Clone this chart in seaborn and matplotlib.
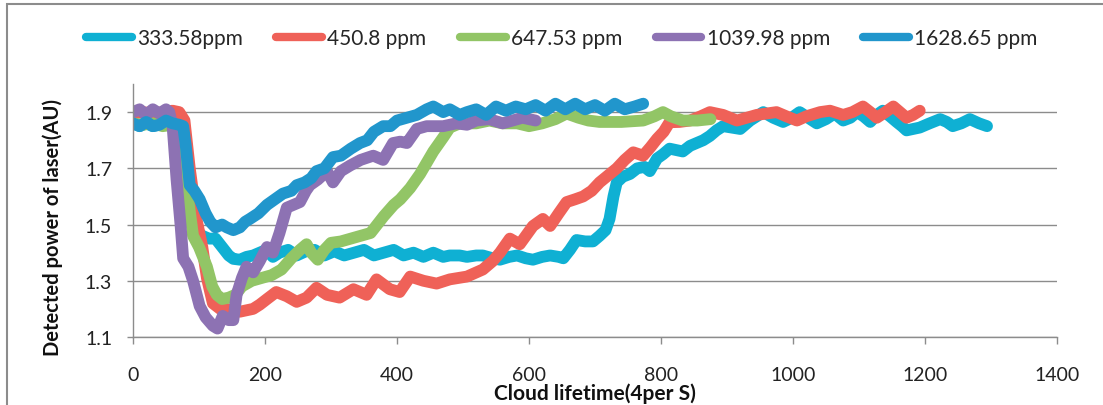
import numpy as np
import pandas as pd
import seaborn as sns
import matplotlib.pyplot as plt
from matplotlib.patches import Rectangle

labels = ['333.58ppm', '450.8 ppm', '647.53 ppm', '1039.98 ppm', '1628.65 ppm']
colors = ['#0FB0D3', '#EF6158', '#92C566', '#8D72B3', '#2196CC']

# 333.58 ppm
x1 = [0, 10, 20, 30, 40, 50, 60, 70, 78, 86, 95, 105, 115, 125, 135, 145, 152, 162, 172, 182,
      192, 202, 212, 222, 235, 248, 262, 275, 290, 305, 320, 335, 350, 365, 380, 395, 410, 425,
      440, 455, 470, 480, 495, 506, 520, 530, 545, 556, 570, 582, 595, 606, 620, 632, 645, 652,
      662, 672, 685, 697, 707, 716, 722, 728, 733, 742, 753, 764, 775, 783, 794, 803, 813, 823,
      833, 844, 854, 864, 874, 884, 894, 907, 920, 935, 945, 955, 970, 985, 998, 1010, 1023, 1036,
      1050, 1063, 1076, 1087, 1097, 1107, 1117, 1127, 1136, 1147, 1157, 1165, 1172, 1182, 1192,
      1207, 1223, 1233, 1242, 1255, 1268, 1282, 1294]
y1 = [1.86, 1.85, 1.86, 1.85, 1.855, 1.865, 1.86, 1.85, 1.80, 1.62, 1.48, 1.46, 1.45, 1.45, 1.42,
      1.39, 1.378, 1.375, 1.385, 1.39, 1.40, 1.41, 1.385, 1.40, 1.41, 1.39, 1.405, 1.41, 1.39,
      1.405, 1.39, 1.40, 1.41, 1.39, 1.40, 1.41, 1.39, 1.40, 1.385, 1.40, 1.385, 1.39, 1.39,
      1.385, 1.39, 1.39, 1.38, 1.375, 1.385, 1.39, 1.38, 1.375, 1.385, 1.39, 1.385, 1.38, 1.41,
      1.445, 1.44, 1.44, 1.46, 1.48, 1.52, 1.60, 1.65, 1.67, 1.68, 1.70, 1.705, 1.69, 1.735, 1.75,
      1.77, 1.765, 1.76, 1.78, 1.79, 1.80, 1.815, 1.835, 1.85, 1.845, 1.84, 1.87, 1.885, 1.90,
      1.88, 1.865, 1.88, 1.90, 1.88, 1.86, 1.875, 1.895, 1.87, 1.88, 1.90, 1.885, 1.865, 1.89,
      1.905, 1.885, 1.865, 1.85, 1.835, 1.84, 1.845, 1.86, 1.875, 1.865, 1.85, 1.86, 1.875, 1.86,
      1.85]

# 450.8 ppm
x2 = [0, 15, 30, 45, 60, 70, 78, 86, 97, 105, 112, 121, 132, 142, 152, 162, 172, 182, 192, 203,
      217, 233, 248, 263, 278, 294, 313, 334, 354, 369, 389, 404, 420, 440, 460, 480, 506, 530,
      545, 556, 571, 586, 606, 621, 632, 645, 657, 670, 682, 695, 707, 720, 733, 745, 758, 773,
      784, 794, 804, 813, 828, 844, 860, 874, 894, 915, 930, 945, 960, 975, 990, 1006, 1020, 1041,
      1056, 1076, 1090, 1106, 1117, 1127, 1140, 1152, 1162, 1172, 1182, 1192]
y2 = [1.895, 1.90, 1.895, 1.90, 1.905, 1.90, 1.87, 1.70, 1.51, 1.42, 1.31, 1.22, 1.20, 1.20,
      1.195, 1.19, 1.195, 1.20, 1.215, 1.235, 1.26, 1.245, 1.225, 1.24, 1.275, 1.25, 1.24, 1.27,
      1.25, 1.305, 1.27, 1.26, 1.315, 1.30, 1.29, 1.305, 1.315, 1.34, 1.37, 1.40, 1.45, 1.43,
      1.495, 1.52, 1.495, 1.54, 1.58, 1.59, 1.60, 1.62, 1.65, 1.675, 1.70, 1.73, 1.757, 1.745,
      1.775, 1.805, 1.83, 1.864, 1.865, 1.87, 1.885, 1.90, 1.89, 1.87, 1.88, 1.89, 1.895, 1.90,
      1.885, 1.87, 1.885, 1.90, 1.905, 1.89, 1.90, 1.92, 1.90, 1.88, 1.90, 1.92, 1.90, 1.88,
      1.89, 1.905]

# 647.53 ppm
x3 = [0, 15, 30, 45, 60, 70, 75, 82, 91, 100, 112, 120, 127, 135, 145, 155, 165, 180, 195, 210,
      225, 240, 253, 263, 270, 280, 290, 300, 315, 330, 345, 360, 370, 380, 395, 405, 420, 435,
      445, 455, 470, 480, 495, 520, 540, 560, 582, 600, 620, 640, 657, 675, 690, 707, 740, 773,
      790, 803, 815, 833, 855, 875]
y3 = [1.86, 1.855, 1.86, 1.85, 1.855, 1.85, 1.80, 1.62, 1.46, 1.42, 1.35, 1.28, 1.25, 1.235,
      1.24, 1.25, 1.28, 1.30, 1.31, 1.32, 1.34, 1.38, 1.41, 1.43, 1.40, 1.375, 1.41, 1.435, 1.44,
      1.45, 1.46, 1.47, 1.50, 1.53, 1.57, 1.59, 1.63, 1.68, 1.72, 1.76, 1.81, 1.845, 1.86, 1.86,
      1.87, 1.86, 1.86, 1.85, 1.86, 1.875, 1.895, 1.88, 1.87, 1.865, 1.865, 1.87, 1.885, 1.90,
      1.885, 1.87, 1.87, 1.875]

# 1039.98 ppm
x4 = [0, 10, 20, 30, 40, 50, 55, 60, 66, 72, 76, 84, 91, 101, 110, 121, 128, 136, 145, 152, 157,
      165, 172, 182, 192, 203, 212, 222, 233, 243, 253, 262, 268, 280, 294, 303, 315, 329, 345,
      364, 379, 394, 405, 415, 430, 445, 455, 470, 490, 506, 520, 540, 560, 575, 590, 610]
y4 = [1.90, 1.91, 1.89, 1.91, 1.895, 1.91, 1.90, 1.85, 1.66, 1.50, 1.38, 1.35, 1.30, 1.21,
      1.17, 1.14, 1.13, 1.175, 1.16, 1.16, 1.25, 1.31, 1.35, 1.33, 1.37, 1.42, 1.40, 1.47, 1.56,
      1.57, 1.58, 1.62, 1.64, 1.66, 1.69, 1.65, 1.69, 1.71, 1.73, 1.745, 1.73, 1.79, 1.795, 1.79,
      1.84, 1.85, 1.85, 1.85, 1.86, 1.855, 1.87, 1.875, 1.86, 1.87, 1.88, 1.87]

# 1628.65 ppm
x5 = [0, 10, 20, 30, 40, 50, 60, 70, 76, 80, 86, 93, 101, 110, 117, 125, 135, 142, 152, 162,
      170, 177, 190, 203, 215, 227, 240, 248, 260, 270, 278, 290, 303, 315, 330, 344, 355, 365,
      379, 390, 400, 415, 430, 445, 455, 470, 480, 495, 506, 520, 535, 550, 565, 580, 595, 610,
      625, 640, 655, 670, 685, 700, 715, 730, 745, 760, 773]
y5 = [1.86, 1.85, 1.865, 1.85, 1.855, 1.87, 1.86, 1.855, 1.85, 1.78, 1.64, 1.62, 1.59, 1.54,
      1.51, 1.49, 1.50, 1.49, 1.48, 1.49, 1.51, 1.52, 1.54, 1.57, 1.59, 1.61, 1.62, 1.64, 1.65,
      1.665, 1.69, 1.70, 1.74, 1.745, 1.77, 1.79, 1.80, 1.83, 1.85, 1.85, 1.87, 1.88, 1.89, 1.91,
      1.92, 1.90, 1.91, 1.89, 1.90, 1.91, 1.89, 1.92, 1.905, 1.92, 1.91, 1.925, 1.905, 1.93,
      1.91, 1.93, 1.91, 1.925, 1.905, 1.93, 1.91, 1.92, 1.93]

xs = [x1, x2, x3, x4, x5]
ys = [y1, y2, y3, y4, y5]
frames = []
for lab, x, y in zip(labels, xs, ys):
    frames.append(pd.DataFrame({'t': x, 'p': y, 'series': lab}))
df = pd.concat(frames, ignore_index=True)

sns.set_style('white')
plt.rcParams['font.family'] = ['Lato', 'DejaVu Sans']

fig = plt.figure(figsize=(11.03, 4.06), dpi=100)
ax = fig.add_axes([133 / 1103, 1 - 338 / 406, 924 / 1103, 253 / 406])

sns.lineplot(data=df, x='t', y='p', hue='series', hue_order=labels, palette=colors,
             sort=False, estimator=None, linewidth=8.5, ax=ax)
for line in ax.lines:
    line.set_solid_capstyle('round')
    line.set_solid_joinstyle('round')

ax.set_xlim(0, 1400)
ax.set_ylim(1.1, 2.0)
ax.set_xticks(range(0, 1401, 200))
ax.set_yticks([1.1, 1.3, 1.5, 1.7, 1.9])
ax.set_yticklabels(['1.1', '1.3', '1.5', '1.7', '1.9'])
ax.grid(axis='y', color='#8c8c8c', linewidth=1)
ax.set_axisbelow(True)
for s in ['top', 'right']:
    ax.spines[s].set_visible(False)
for s in ['left', 'bottom']:
    ax.spines[s].set_color('#8c8c8c')
    ax.spines[s].set_linewidth(1)
ax.tick_params(axis='x', direction='out', length=5, width=1, color='#8c8c8c',
               pad=16, labelsize=14, labelcolor='#222222', bottom=True)
ax.tick_params(axis='y', direction='out', length=4, width=1, color='#8c8c8c',
               pad=11, labelsize=14, labelcolor='#222222', left=True)

ax.set_xlabel('Cloud lifetime(4per S)', fontsize=15, fontweight='bold', color='#111111')
ax.set_ylabel('Detected power of laser(AU)', fontsize=14.5, fontweight='bold', color='#111111')
ax.xaxis.set_label_coords(0.5, -0.18)
ax.yaxis.set_label_coords(-0.076, 0.435)

handles, labs = ax.get_legend_handles_labels()
leg = ax.legend(handles, labs, ncol=5, loc='center', bbox_to_anchor=(0.5095, 0.903),
                bbox_transform=fig.transFigure, frameon=False, fontsize=15,
                handlelength=2.2, handletextpad=0.25, columnspacing=1.6)
for h in leg.get_lines():
    h.set_linewidth(6)
    h.set_solid_capstyle('round')

fig.patches.append(Rectangle((0.006, -0.1), 1.1, 1.087, transform=fig.transFigure,
                             fill=False, edgecolor='#8c8c8c', linewidth=1.5))

fig.savefig('out.png', dpi=100)
